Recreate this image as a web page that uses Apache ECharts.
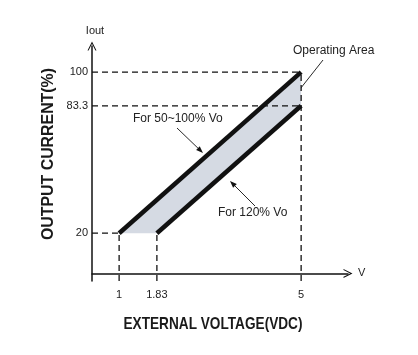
<!DOCTYPE html>
<html><head><meta charset="utf-8">
<script src="https://cdn.jsdelivr.net/npm/echarts@6/dist/echarts.min.js"></script>
<style>html,body{margin:0;padding:0;background:#fff}#c{width:418px;height:355px}</style>
</head><body><div id="c"></div>
<script>
// ---- data ----
const xTicks = [1, 1.83, 5];
const yTicks = [20, 83.3, 100];
const upperLine = [[1, 20], [5, 100]];     // For 50~100% Vo
const lowerLine = [[1.83, 20], [5, 83.3]]; // For 120% Vo
const xMin = 0.404, xMax = 6.03;
const yMin = -3.75, yMax = 113;

const chart = echarts.init(document.getElementById('c'), null, {renderer: 'canvas'});
const FONT = "'Liberation Sans', Arial, sans-serif";

const polygon = [upperLine[0], upperLine[1], lowerLine[1], lowerLine[0]];

// dashed guides built from the tick values
const guides = [
  [[xMin, yTicks[0]], [xTicks[0], yTicks[0]]],
  [[xMin, yTicks[1]], [xTicks[2], yTicks[1]]],
  [[xMin, yTicks[2]], [xTicks[2], yTicks[2]]],
  [[xTicks[0], yMin], [xTicks[0], yTicks[0]]],
  [[xTicks[1], yMin], [xTicks[1], yTicks[0]]],
  [[xTicks[2], yMin], [xTicks[2], yTicks[2]]]
];

const chevron = 'path://M0,10 L5,0 L10,10 L8.8,10 L5,2.6 L1.2,10 Z';

const series = [];
series.push({
  type: 'custom', z: 1, silent: true,
  data: polygon,
  renderItem: function (params, api) {
    if (params.dataIndex !== 0) return null;
    return {type: 'polygon', shape: {points: polygon.map(p => api.coord(p))},
      style: {fill: '#d5dae3', stroke: null}};
  }
});
guides.forEach(g => series.push({
  type: 'line', data: g, symbol: 'none', silent: true, z: 2,
  lineStyle: {color: '#111', width: 1.3, type: [6, 4]}
}));
series.push({type: 'line', data: upperLine, symbol: 'none', z: 3, silent: true,
  lineStyle: {color: '#111', width: 4.5, cap: 'butt'}});
series.push({type: 'line', data: lowerLine, symbol: 'none', z: 3, silent: true,
  lineStyle: {color: '#111', width: 4.5, cap: 'butt'}});

function arrowLine(x1, y1, x2, y2) {
  const a = Math.atan2(y2 - y1, x2 - x1), L = 7, W = 2.6;
  const bx = x2 - L * Math.cos(a), by = y2 - L * Math.sin(a);
  const px = -Math.sin(a) * W, py = Math.cos(a) * W;
  return [
    {type: 'line', shape: {x1: x1, y1: y1, x2: bx, y2: by}, style: {stroke: '#111', lineWidth: 0.9}},
    {type: 'polygon', shape: {points: [[x2, y2], [bx + px, by + py], [bx - px, by - py]]}, style: {fill: '#111'}}
  ];
}

// fit condensed bold titles to the reference widths
const mctx = document.createElement('canvas').getContext('2d');
function fitScale(text, font, target) {
  mctx.font = font;
  return target / mctx.measureText(text).width;
}
const TFONT = 'bold 17px ' + FONT;
const xTitle = 'EXTERNAL VOLTAGE(VDC)';
const yTitle = 'OUTPUT CURRENT(%)';

const graphics = [].concat(
  arrowLine(177, 128, 203, 153),
  arrowLine(255, 206, 230, 181),
  arrowLine(323, 60, 293, 98),
  [
    {type: 'text', x: 133, y: 119, style: {text: 'For 50~100% Vo', font: '12px ' + FONT, fill: '#222', textVerticalAlign: 'middle'}},
    {type: 'text', x: 218, y: 213, style: {text: 'For 120% Vo', font: '12px ' + FONT, fill: '#222', textVerticalAlign: 'middle'}},
    {type: 'text', x: 293, y: 51, style: {text: 'Operating Area', font: '12px ' + FONT, fill: '#222', textVerticalAlign: 'middle'}},
    {type: 'text', x: 213, y: 324, scaleX: fitScale(xTitle, TFONT, 179),
      style: {text: xTitle, font: TFONT, fill: '#1a1a1a', textAlign: 'center', textVerticalAlign: 'middle'}},
    {type: 'text', x: 48, y: 154, rotation: Math.PI / 2, scaleX: fitScale(yTitle, TFONT, 172),
      style: {text: yTitle, font: TFONT, fill: '#1a1a1a', textAlign: 'center', textVerticalAlign: 'middle'}}
  ]
);

chart.setOption({
  animation: false,
  backgroundColor: '#fff',
  grid: {left: 92, right: 70, top: 46, bottom: 74, containLabel: false},
  xAxis: {
    type: 'value', min: xMin, max: xMax,
    name: 'V', nameLocation: 'end', nameGap: 10,
    nameTextStyle: {fontFamily: FONT, fontSize: 11, color: '#222'},
    axisLine: {show: true, lineStyle: {color: '#111', width: 1.5}, symbol: ['none', chevron], symbolSize: [10, 9]},
    axisTick: {show: false},
    splitLine: {show: false},
    axisLabel: {customValues: xTicks, formatter: v => String(v), fontFamily: FONT, fontSize: 11, color: '#222', margin: 8}
  },
  yAxis: {
    type: 'value', min: yMin, max: yMax,
    name: 'Iout', nameLocation: 'end', nameGap: 10,
    nameTextStyle: {fontFamily: FONT, fontSize: 11, color: '#222', padding: [0, 0, 0, 6]},
    axisLine: {show: true, lineStyle: {color: '#111', width: 1.5}, symbol: ['none', chevron], symbolSize: [10, 9]},
    axisTick: {show: false},
    splitLine: {show: false},
    axisLabel: {customValues: yTicks, formatter: v => String(v), fontFamily: FONT, fontSize: 11, color: '#222', margin: 4}
  },
  series: series,
  graphic: graphics
});
</script>
</body></html>
